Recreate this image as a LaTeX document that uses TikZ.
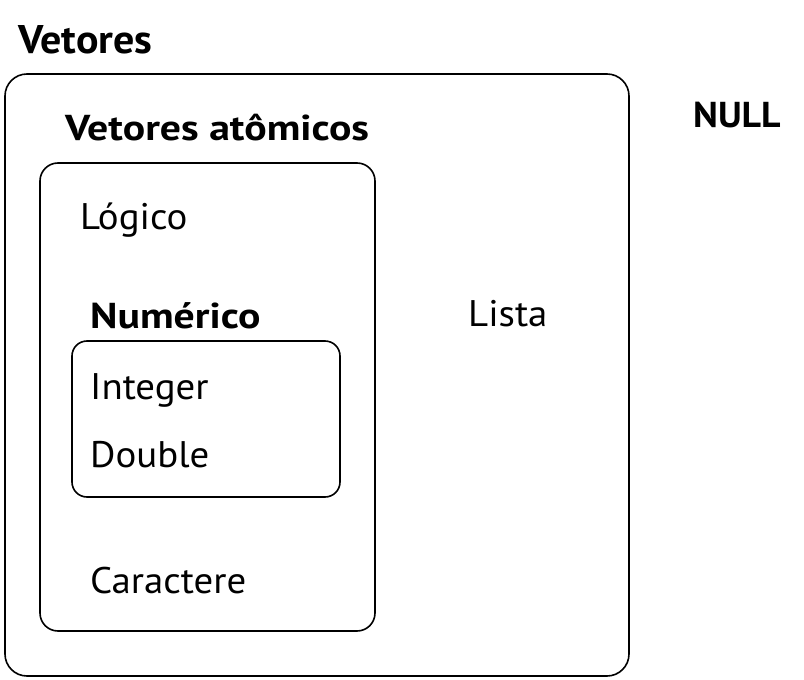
\documentclass[tikz,border=0pt]{standalone}
\usepackage{fontspec}
\setmainfont{PT Sans}[FakeStretch=1.05]
\newfontfamily\widebold{PT Sans Bold}[FakeStretch=1.16]
\usepackage{tikz}

\begin{document}
\begin{tikzpicture}[x=1pt,y=-1pt,
	every node/.style={black,inner sep=0pt,anchor=base west},
	label/.style={font=\fontsize{37}{40}\selectfont},
	title/.style={font=\fontsize{36}{40}\selectfont\bfseries},
	subtitle/.style={font=\fontsize{36}{40}\selectfont\widebold},
	box/.style={draw,line width=1.6pt,rounded corners=#1}]
	\useasboundingbox (0,0) rectangle (804,680);

	\coordinate (V1) at (5,74);
	\coordinate (V2) at (629,676);
	\coordinate (A1) at (40,163);
	\coordinate (A2) at (375,631);
	\coordinate (N1) at (72,341);
	\coordinate (N2) at (340,497);

	\draw[box=22pt] (V1) rectangle (V2);
	\draw[box=18pt] (A1) rectangle (A2);
	\draw[box=15pt] (N1) rectangle (N2);

	\node[title,font=\fontsize{40}{44}\selectfont\bfseries] (vetores) at (18,53) {Vetores};
	\node[title] (null) at (693,127) {NULL};
	\node[subtitle] (atomicos) at (65,140) {Vetores atômicos};
	\node[label] (logico) at (80,229) {Lógico};
	\node[subtitle] (numerico) at (90,328) {Numérico};
	\node[label] (lista) at (468,326) {Lista};
	\node[label] (integer) at (90,399) {Integer};
	\node[label] (double) at (90,467) {Double};
	\node[label] (caractere) at (90,593) {Caractere};
\end{tikzpicture}
\end{document}
